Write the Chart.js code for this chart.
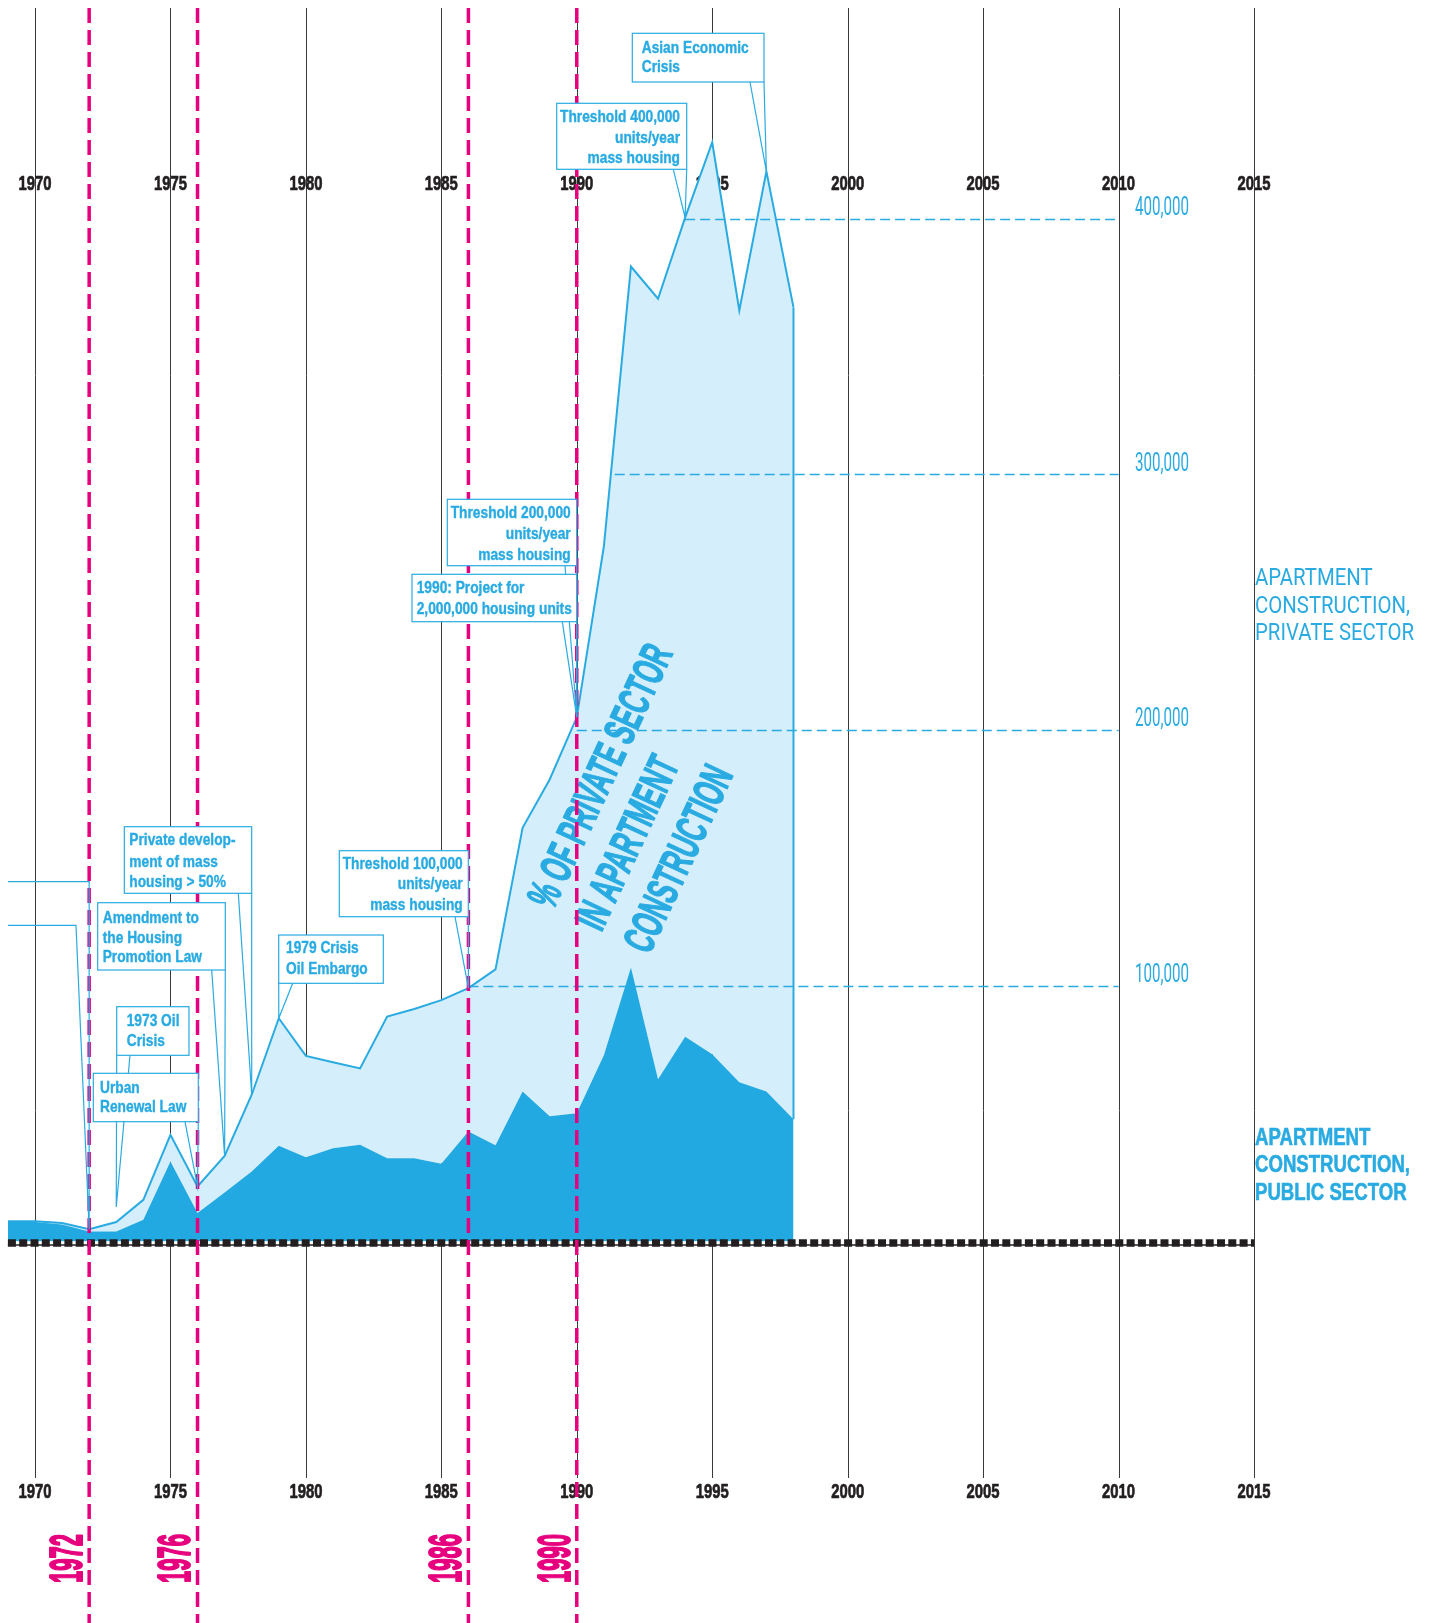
<!DOCTYPE html>
<html>
<head>
<meta charset="utf-8">
<script src="https://cdn.jsdelivr.net/npm/chart.js@4.4.1/dist/chart.umd.min.js"></script>
<style>
html,body{margin:0;padding:0;background:#fff;overflow:hidden}
canvas{display:block}
</style>
</head>
<body>
<canvas id="c" width="1431" height="1623"></canvas>
<script>
// ---------------- DATA ----------------
const years = [1969,1970,1971,1972,1973,1974,1975,1976,1977,1978,1979,1980,1981,1982,1983,1984,1985,1986,1987,1988,1989,1990,1991,1992,1993,1994,1995,1996,1997,1998];
const publicUnits = [7600,7600,6600,3900,3900,8500,31300,11100,19200,27400,37400,32900,36500,37800,32600,32600,30400,43000,37600,58700,49000,50200,72800,107200,63500,80100,73200,62300,58700,47800];
const privateUnits = [300,300,600,900,3700,7800,10400,10400,14300,30000,49900,39700,33600,29900,55400,58300,64000,56100,68800,103100,131700,154800,199000,274100,305200,320300,356700,301800,359800,317500];
const tickYears = [1970,1975,1980,1985,1990,1995,2000,2005,2010,2015];
const milestoneYears = [1972,1976,1986,1990];
const thresholdValues = [100000,200000,300000,400000];
const thresholdLabels = ['100,000','200,000','300,000','400,000'];
const thresholdStartYears = [1986,1990,1991.4,1994];
const thresholdEndYear = 2010;
const privateLabelLines = ['APARTMENT','CONSTRUCTION,','PRIVATE SECTOR'];
const publicLabelLines = ['APARTMENT','CONSTRUCTION,','PUBLIC SECTOR'];
const shareLabelLines = ['% OF PRIVATE SECTOR','IN APARTMENT','CONSTRUCTION'];
const eventTexts = [
  ['1973 Oil','Crisis'],
  ['Urban','Renewal Law'],
  ['Amendment to','the Housing','Promotion Law'],
  ['Private develop-','ment of mass','housing > 50%'],
  ['1979 Crisis','Oil Embargo'],
  ['Threshold 100,000','units/year','mass housing'],
  ['Threshold 200,000','units/year','mass housing'],
  ['1990: Project for','2,000,000 housing units'],
  ['Threshold 400,000','units/year','mass housing'],
  ['Asian Economic','Crisis']
];
const eventYears = [1973,1976,1977,1978,1979,1986,1990,1990,1994,1997];

// ---------------- STYLE / LAYOUT ----------------
const BLUE = '#29abe2', DARK = '#23a9e1', LIGHT = '#d4eefb', MAGENTA = '#e6007e', INK = '#231f20', GRID = '#3a3a3a';
const FAM_B = '"Liberation Sans",Arial,sans-serif';
const FAM_R = '"Roboto","Liberation Sans",sans-serif';
function st(weight, fam, size, ref, width, color, align, fat){ return {weight, fam, size, ref, width, color, align, fat}; }
const S = {
  tick: st('bold', FAM_B, 20, '1970', 33, INK, 'center', 0.7),
  note: st('bold', FAM_B, 17, 'Threshold 100,000', 120, BLUE, 'left', 0.4),
  noteR: st('bold', FAM_B, 17, 'Threshold 100,000', 120, BLUE, 'right', 0.4),
  value: st('normal', FAM_R, 26, '400,000', 54, BLUE, 'left', 0),
  sideReg: st('normal', FAM_R, 24, 'CONSTRUCTION,', 155, BLUE, 'left', 0),
  sideBold: st('bold', FAM_B, 24, 'CONSTRUCTION,', 155, BLUE, 'left', 0.6),
  mile: st('bold', FAM_B, 47, '1972', 49, MAGENTA, 'center', 2),
  big: st('bold', FAM_B, 44, 'CONSTRUCTION', 200, BLUE, 'left', 1.4)
};
// box layout: [left, top, right, bottom], text x, line centres, tail base x, tail corner x, tip lift
const boxes = [
  {b:[116.7,1006.7,189,1055.3], tx:126.7, ly:[1020,1040], al:'left', ta:130, tc:116.7, lift:-15},
  {b:[93.3,1073.3,198.3,1121.7], tx:100, ly:[1086.7,1106], al:'left', ta:185, tc:198.3, lift:0},
  {b:[97.7,902.7,225.3,970], tx:102.7, ly:[916.7,936.7,956], al:'left', ta:211.7, tc:225.3, lift:0},
  {b:[124.3,826.7,251.7,893.3], tx:129.3, ly:[839.3,860.7,880.7], al:'left', ta:238.3, tc:251.7, lift:0},
  {b:[278.7,935,383.3,983.3], tx:286, ly:[947.3,968.3], al:'left', ta:292.7, tc:278.7, lift:0},
  {b:[339.3,850.7,468.3,916.7], tx:462.7, ly:[863.3,883.3,904], al:'right', ta:455, tc:468.3, lift:0},
  {b:[447.3,499.3,576.7,565.7], tx:570.7, ly:[512.3,533.3,554], al:'right', ta:565, tc:576.7, lift:0},
  {b:[412,574.3,576.7,621.7], tx:416.7, ly:[587.3,608], al:'left', ta:562.3, tc:576.7, lift:0},
  {b:[556.7,103.3,686.7,169.3], tx:680, ly:[115.7,136.7,156.7], al:'right', ta:673.3, tc:686.7, lift:0},
  {b:[632.3,33.3,764,82], tx:641.7, ly:[46.7,66], al:'left', ta:750, tc:764, lift:0}
];

function drawText(ctx, s, x, yc, style, rot){
  ctx.save();
  ctx.font = style.weight + ' ' + style.size + 'px ' + style.fam;
  if (style.sx === undefined) style.sx = style.width / ctx.measureText(style.ref).width;
  ctx.fillStyle = style.color;
  ctx.strokeStyle = style.color;
  ctx.textAlign = style.align;
  ctx.textBaseline = 'alphabetic';
  ctx.lineJoin = 'round';
  ctx.setLineDash([]);
  ctx.translate(x, yc);
  if (rot) ctx.rotate(rot);
  ctx.scale(style.sx, 1);
  const by = style.size * 0.358;
  ctx.fillText(s, 0, by);
  if (style.fat) { ctx.lineWidth = style.fat; ctx.strokeText(s, 0, by); }
  ctx.restore();
}
function seg(ctx, x1, y1, x2, y2){ ctx.beginPath(); ctx.moveTo(x1,y1); ctx.lineTo(x2,y2); ctx.stroke(); }

const decor = {
  id: 'decor',
  beforeDatasetsDraw(chart){
    const ctx = chart.ctx, x = chart.scales.x;
    ctx.save();
    ctx.strokeStyle = GRID; ctx.lineWidth = 1;
    tickYears.forEach(t => { const px = Math.round(x.getPixelForValue(t)) + 0.5; seg(ctx, px, 8, px, 1478); });
    tickYears.forEach(t => {
      const px = x.getPixelForValue(t);
      drawText(ctx, String(t), px, 183, S.tick);
      drawText(ctx, String(t), px, 1491, S.tick);
    });
    ctx.restore();
  },
  afterDatasetsDraw(chart){
    const ctx = chart.ctx, x = chart.scales.x, y = chart.scales.y;
    const pub = chart.getDatasetMeta(0).data, pri = chart.getDatasetMeta(1).data;
    const tip = yr => { const el = pri[years.indexOf(yr)]; return {x: el.x, y: el.y}; };
    ctx.save();
    // right edge of private area
    const last = years.length - 1;
    ctx.strokeStyle = BLUE; ctx.lineWidth = 2;
    seg(ctx, pri[last].x, pri[last].y, pri[last].x, pub[last].y);
    // threshold lines
    ctx.lineWidth = 1.5; ctx.setLineDash([10,5]);
    thresholdValues.forEach((v,i) => {
      const py = Math.round(y.getPixelForValue(v)) + 0.5;
      seg(ctx, x.getPixelForValue(thresholdStartYears[i]), py, x.getPixelForValue(thresholdEndYear), py);
    });
    ctx.setLineDash([]);
    thresholdValues.forEach((v,i) => drawText(ctx, thresholdLabels[i], 1135, y.getPixelForValue(v) - 13, S.value));
    // big rotated label
    const ang = -65 * Math.PI / 180, nx = -Math.sin(ang), ny = Math.cos(ang);
    shareLabelLines.forEach((s,k) => drawText(ctx, s, 539 + k*53*nx, 904 + k*53*ny, S.big, ang));
    // baseline
    const by = y.getPixelForValue(0) + 1.5;
    ctx.strokeStyle = INK; ctx.lineWidth = 1.5;
    seg(ctx, chart.chartArea.left, by + 2, x.getPixelForValue(2015), by + 2);
    ctx.lineWidth = 7.5; ctx.setLineDash([8,3.3]);
    seg(ctx, chart.chartArea.left, by, x.getPixelForValue(2015), by);
    // milestone lines
    ctx.strokeStyle = MAGENTA; ctx.lineWidth = 3.5; ctx.setLineDash([15,7]);
    milestoneYears.forEach(m => { const px = x.getPixelForValue(m); seg(ctx, px, 8, px, 1623); });
    ctx.setLineDash([]);
    milestoneYears.forEach(m => drawText(ctx, String(m), x.getPixelForValue(m) - 24, 1558.5, S.mile, -Math.PI/2));
    // leader from off-chart note to 1972
    const t72 = tip(1972);
    ctx.strokeStyle = BLUE; ctx.lineWidth = 1.2;
    ctx.beginPath();
    ctx.moveTo(chart.chartArea.left, 881.7); ctx.lineTo(t72.x, 881.7); ctx.lineTo(t72.x, t72.y);
    ctx.moveTo(chart.chartArea.left, 925.3); ctx.lineTo(76, 925.3); ctx.lineTo(t72.x, t72.y);
    ctx.stroke();
    // event boxes
    boxes.forEach((bx, i) => {
      const t = tip(eventYears[i]);
      const ty = t.y + bx.lift;
      const [l,tp,r,b] = bx.b;
      ctx.strokeStyle = BLUE; ctx.lineWidth = 1.2;
      ctx.beginPath();
      ctx.moveTo(bx.ta, b); ctx.lineTo(t.x, ty); ctx.lineTo(bx.tc, b);
      ctx.stroke();
      ctx.fillStyle = '#fff';
      ctx.fillRect(l, tp, r-l, b-tp);
      ctx.strokeRect(l, tp, r-l, b-tp);
      eventTexts[i].forEach((s,k) => drawText(ctx, s, bx.tx, bx.ly[k], bx.al === 'right' ? S.noteR : S.note));
    });
    // series labels
    [576.7,604.3,631.7].forEach((yy,k) => drawText(ctx, privateLabelLines[k], 1255, yy, S.sideReg));
    [1136,1163.3,1191].forEach((yy,k) => drawText(ctx, publicLabelLines[k], 1255, yy, S.sideBold));
    ctx.restore();
  }
};

new Chart(document.getElementById('c').getContext('2d'), {
  type: 'line',
  data: {
    datasets: [
      { label: publicLabelLines.join(' '), data: years.map((yr,i) => ({x: yr, y: publicUnits[i]})),
        fill: 'origin', backgroundColor: DARK, borderWidth: 0, pointRadius: 0, order: 0 },
      { label: privateLabelLines.join(' '), data: years.map((yr,i) => ({x: yr, y: privateUnits[i]})),
        fill: '-1', backgroundColor: LIGHT, borderColor: BLUE, borderWidth: 2, pointRadius: 0, order: 1 }
    ]
  },
  options: {
    responsive: false, animation: false, devicePixelRatio: 1,
    layout: { padding: { left: 7.9, right: 177, top: 8, bottom: 381.5 } },
    elements: { line: { tension: 0 } },
    scales: {
      x: { type: 'linear', min: 1969, max: 2015, display: false },
      y: { stacked: true, min: 0, max: 482400, display: false }
    },
    plugins: { legend: { display: false }, tooltip: { enabled: false } }
  },
  plugins: [decor]
});
</script>
</body>
</html>
